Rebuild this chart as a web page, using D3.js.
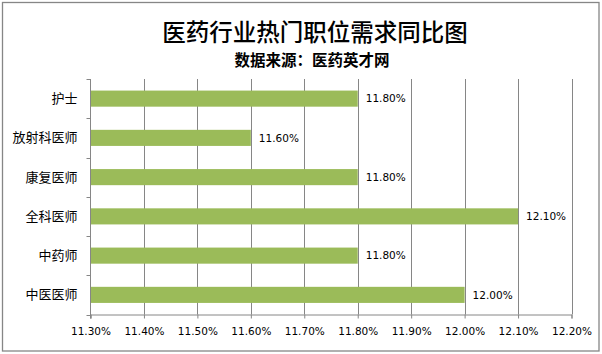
<!DOCTYPE html>
<html><head><meta charset="utf-8">
<script src="https://cdn.jsdelivr.net/npm/d3@7"></script>
<style>body{margin:0;background:#fff}svg{display:block}</style>
</head><body>
<script>
const categories = ["护士","放射科医师","康复医师","全科医师","中药师","中医医师"];
const values = [11.80, 11.60, 11.80, 12.10, 11.80, 12.00];
const tickValues = [11.30, 11.40, 11.50, 11.60, 11.70, 11.80, 11.90, 12.00, 12.10, 12.20];
const title = "医药行业热门职位需求同比图";
const subtitle = "数据来源：医药英才网";

const W = 602, H = 354;
const svg = d3.select("body").append("svg").attr("width", W).attr("height", H);
svg.append("rect").attr("x", 2.5).attr("y", 2.5).attr("width", 596.5).attr("height", 348.5)
  .attr("fill", "#fff").attr("stroke", "#868686").attr("stroke-width", 1.3);

const L = 90.5, R = 571.5, T = 79, B = 314.5;
const x = d3.scaleLinear().domain([11.30, 12.20]).range([L, R]);
const y = d3.scaleBand().domain(categories).range([T, B]).paddingInner(0.59).paddingOuter(0.295);
const yb = d3.scaleBand().domain(categories).range([T, B]);

svg.append("text").attr("x", 315).attr("y", 41).attr("text-anchor", "middle")
  .attr("font-family", "Noto Sans CJK SC").attr("font-weight", 500).attr("font-size", 23.5).text(title);
svg.append("text").attr("x", 312).attr("y", 66).attr("text-anchor", "middle")
  .attr("font-family", "Noto Sans CJK SC").attr("font-weight", 700).attr("font-size", 15.5).text(subtitle);

// gridlines
svg.append("g").selectAll("line").data(tickValues.slice(1)).join("line")
  .attr("x1", d => Math.round(x(d)) + 0.5).attr("x2", d => Math.round(x(d)) + 0.5)
  .attr("y1", T).attr("y2", B).attr("stroke", "#868686").attr("stroke-width", 1);

// bars
svg.append("g").selectAll("rect").data(values).join("rect")
  .attr("x", x(11.30) + 0.5).attr("y", (d, i) => y(categories[i]))
  .attr("width", d => x(d) - x(11.30) - 0.5).attr("height", y.bandwidth())
  .attr("fill", "#9BBB59");

// value labels
svg.append("g").selectAll("text").data(values).join("text")
  .attr("x", d => x(d) + 8).attr("y", (d, i) => y(categories[i]) + y.bandwidth() / 2)
  .attr("dy", "0.35em").attr("font-family", "DejaVu Sans").attr("font-size", 10.5).attr("fill", "#000")
  .text(d => d.toFixed(2) + "%");

// x axis
const xAxis = d3.axisBottom(x).tickValues(tickValues).tickSize(4).tickPadding(9)
  .tickFormat(d => d.toFixed(2) + "%");
const gx = svg.append("g").attr("transform", `translate(0,${B})`).call(xAxis);
gx.select(".domain").attr("stroke", "#868686");
gx.selectAll(".tick line").attr("stroke", "#868686");
gx.selectAll(".tick text").attr("font-family", "DejaVu Sans").attr("font-size", 10.5).attr("fill", "#000");

// y axis: ticks at band boundaries
const gy = svg.append("g").attr("transform", `translate(${L},0)`);
gy.append("line").attr("x1", 0).attr("x2", 0).attr("y1", T).attr("y2", B + 4).attr("stroke", "#868686");
const bounds = categories.map(c => yb(c)).concat([B]);
gy.selectAll("line.tk").data(bounds).join("line").attr("class", "tk")
  .attr("x1", -4).attr("x2", 0).attr("y1", d => Math.round(d) + 0.5).attr("y2", d => Math.round(d) + 0.5)
  .attr("stroke", "#868686");
gy.selectAll("text").data(categories).join("text")
  .attr("x", -13).attr("y", d => yb(d) + yb.bandwidth() / 2).attr("dy", "0.35em")
  .attr("text-anchor", "end").attr("font-family", "Noto Sans CJK SC").attr("font-size", 13)
  .attr("fill", "#000").text(d => d);
</script>
</body></html>
